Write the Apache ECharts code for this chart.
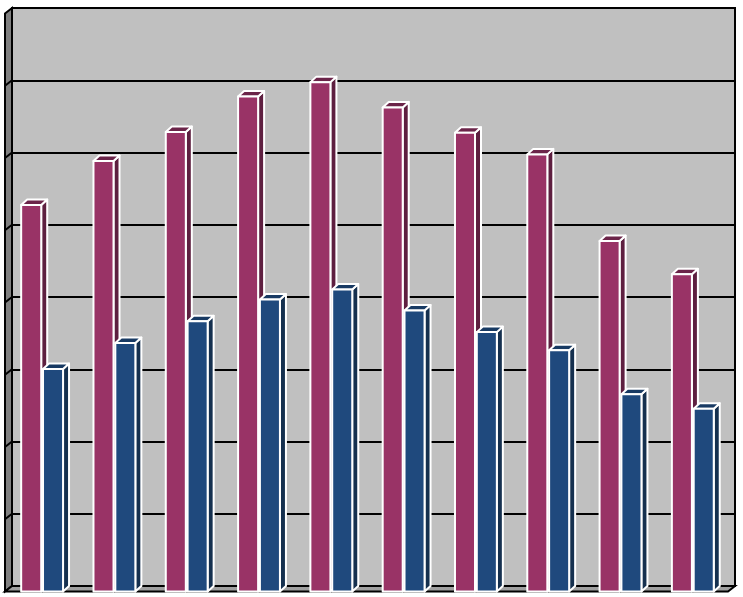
<!DOCTYPE html>
<html>
<head>
<meta charset="utf-8">
<script src="https://cdn.jsdelivr.net/npm/echarts@6/dist/echarts.min.js"></script>
<style>
html, body { margin: 0; padding: 0; background: #fff; }
#main { width: 743px; height: 597px; }
</style>
</head>
<body>
<div id="main"></div>
<script>
// data (no labels shown, scale 0..8)
var categories = ['1', '2', '3', '4', '5', '6', '7', '8', '9', '10'];
var seriesA = [5.35, 5.96, 6.36, 6.85, 7.05, 6.70, 6.35, 6.05, 4.85, 4.39];
var seriesB = [3.08, 3.44, 3.74, 4.04, 4.18, 3.89, 3.59, 3.34, 2.73, 2.53];
var yMin = 0, yMax = 8, yStep = 1;

// back wall of the 3d box, and depth of the bars / floor
var wall = { left: 12, top: 8, right: 735, bottom: 586 };
var DX = 6, DY = 5.5;

var myChart = echarts.init(document.getElementById('main'));

// draws one 3d column: front, right side and top face
function bar3d(offset, front, side, top) {
    return function (params, api) {
        var i = api.value(0);
        var back = api.coord([i, api.value(1)]);
        var base = api.coord([i, 0]);
        var band = api.size([1, 0])[0];
        var w = band * 0.277;
        var x0 = back[0] + band * offset - DX;
        var yTop = back[1] + DY;
        var yBot = base[1] + DY;
        var st = { stroke: '#fff', lineWidth: 2, lineJoin: 'round' };
        return {
            type: 'group',
            children: [
                { type: 'polygon', shape: { points: [[x0 + w, yTop], [x0 + w + DX, yTop - DY], [x0 + w + DX, yBot - DY], [x0 + w, yBot]] },
                  style: Object.assign({ fill: side }, st) },
                { type: 'polygon', shape: { points: [[x0, yTop], [x0 + DX, yTop - DY], [x0 + w + DX, yTop - DY], [x0 + w, yTop]] },
                  style: Object.assign({ fill: top }, st) },
                { type: 'polygon', shape: { points: [[x0, yTop], [x0 + w, yTop], [x0 + w, yBot], [x0, yBot]] },
                  style: Object.assign({ fill: front }, st) }
            ]
        };
    };
}

function toItems(arr) {
    return arr.map(function (v, i) { return [i, v]; });
}

option = {
    backgroundColor: '#fff',
    animation: false,
    grid: {
        left: wall.left,
        top: wall.top,
        right: 743 - wall.right,
        bottom: 597 - wall.bottom,
        show: true,
        backgroundColor: '#C0C0C0',
        borderColor: '#000',
        borderWidth: 2
    },
    xAxis: {
        type: 'category',
        data: categories,
        axisLine: { show: false },
        axisTick: { show: false },
        axisLabel: { show: false }
    },
    yAxis: {
        type: 'value',
        min: yMin,
        max: yMax,
        interval: yStep,
        axisLine: { show: false },
        axisTick: { show: false },
        axisLabel: { show: false },
        splitLine: { lineStyle: { color: '#000', width: 2 } }
    },
    series: [
        {
            type: 'custom',
            z: 3,
            renderItem: bar3d(-0.29, '#993366', '#5E1F40', '#6B2449'),
            encode: { x: 0, y: 1 },
            data: toItems(seriesA)
        },
        {
            type: 'custom',
            z: 4,
            renderItem: bar3d(0.012, '#1F497D', '#15304F', '#183A63'),
            encode: { x: 0, y: 1 },
            data: toItems(seriesB)
        }
    ]
};
myChart.setOption(option);

// left wall, floor and the tick marks on the left wall
var L = wall.left, T = wall.top, R = wall.right, B = wall.bottom;
var deco = [
    { type: 'polygon', z: 1, shape: { points: [[L - DX - 1, T + DY], [L, T], [L, B], [L - DX - 1, B + DY]] },
      style: { fill: '#808080', stroke: '#000', lineWidth: 2 } },
    { type: 'polygon', z: 1, shape: { points: [[L, B], [R, B], [R - DX - 1, B + DY], [L - DX - 1, B + DY]] },
      style: { fill: '#A0A0A0', stroke: '#000', lineWidth: 2 } }
];
for (var v = yMin + yStep; v < yMax; v += yStep) {
    var y = myChart.convertToPixel({ yAxisIndex: 0 }, v);
    deco.push({ type: 'line', z: 2, shape: { x1: L, y1: y, x2: L - DX - 1, y2: y + DY },
                style: { stroke: '#000', lineWidth: 2 } });
}
myChart.setOption({ graphic: deco });
</script>
</body>
</html>
